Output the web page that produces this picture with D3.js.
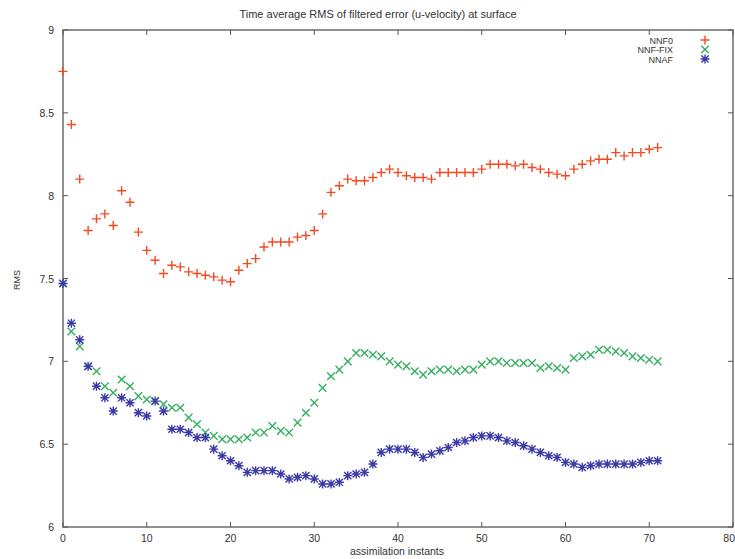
<!DOCTYPE html>
<html>
<head>
<meta charset="utf-8">
<script src="https://cdn.jsdelivr.net/npm/d3@7/dist/d3.min.js"></script>
<style>
  html, body { margin: 0; padding: 0; background: #fff; }
  svg { display: block; }
  text { font-family: "Liberation Sans", Arial, sans-serif; fill: #333; }
</style>
</head>
<body>
<svg id="chart" width="735" height="559"></svg>
<script>
// ---- Data ----
const titleText = "Time average RMS of filtered error (u-velocity) at surface";
const xLabel = "assimilation instants";
const yLabel = "RMS";
const xTicks = [0, 10, 20, 30, 40, 50, 60, 70, 80];
const yTicks = [6, 6.5, 7, 7.5, 8, 8.5, 9];
const seriesNames = ["NNF0", "NNF-FIX", "NNAF"];

const nnf0 = [8.75, 8.43, 8.10, 7.79, 7.86, 7.89, 7.82, 8.03, 7.96, 7.78,
  7.67, 7.61, 7.53, 7.58, 7.57, 7.54, 7.53, 7.52, 7.51, 7.49,
  7.48, 7.55, 7.59, 7.62, 7.69, 7.72, 7.72, 7.72, 7.75, 7.76,
  7.79, 7.89, 8.02, 8.06, 8.10, 8.09, 8.09, 8.11, 8.14, 8.16,
  8.14, 8.12, 8.11, 8.11, 8.10, 8.14, 8.14, 8.14, 8.14, 8.14,
  8.16, 8.19, 8.19, 8.19, 8.18, 8.19, 8.17, 8.16, 8.14, 8.13,
  8.12, 8.16, 8.19, 8.21, 8.22, 8.22, 8.26, 8.24, 8.26, 8.26,
  8.28, 8.29];

const nnfFix = [7.47, 7.18, 7.09, 6.97, 6.94, 6.85, 6.81, 6.89, 6.85, 6.79,
  6.77, 6.76, 6.74, 6.72, 6.72, 6.66, 6.62, 6.57, 6.55, 6.53,
  6.53, 6.53, 6.54, 6.57, 6.57, 6.61, 6.58, 6.57, 6.63, 6.69,
  6.75, 6.84, 6.91, 6.95, 7.00, 7.05, 7.05, 7.04, 7.03, 7.00,
  6.98, 6.97, 6.94, 6.92, 6.94, 6.95, 6.95, 6.94, 6.95, 6.95,
  6.98, 7.00, 7.00, 6.99, 6.99, 6.99, 6.99, 6.96, 6.97, 6.96,
  6.95, 7.02, 7.03, 7.04, 7.07, 7.07, 7.06, 7.05, 7.03, 7.02,
  7.01, 7.00];

const nnaf = [7.47, 7.23, 7.13, 6.97, 6.85, 6.78, 6.70, 6.78, 6.75, 6.69,
  6.67, 6.76, 6.70, 6.59, 6.59, 6.57, 6.54, 6.54, 6.47, 6.43,
  6.40, 6.37, 6.33, 6.34, 6.34, 6.34, 6.32, 6.29, 6.30, 6.31,
  6.29, 6.26, 6.26, 6.27, 6.31, 6.32, 6.33, 6.38, 6.45, 6.47,
  6.47, 6.47, 6.45, 6.42, 6.44, 6.46, 6.48, 6.51, 6.52, 6.54,
  6.55, 6.55, 6.54, 6.52, 6.51, 6.49, 6.47, 6.45, 6.43, 6.42,
  6.39, 6.38, 6.36, 6.37, 6.38, 6.38, 6.38, 6.38, 6.38, 6.39,
  6.40, 6.40];

const seriesValues = [nnf0, nnfFix, nnaf];
const seriesColors = ["#f24a22", "#34b060", "#3b3aa6"];
const seriesShapes = ["plus", "cross", "star"];

// ---- Layout ----
const svg = d3.select("#chart");
const L = 63, R = 733, T = 30, B = 527;

const x = d3.scaleLinear().domain([0, 80]).range([L, R]);
const y = d3.scaleLinear().domain([6, 9]).range([B, T]);

const border = "#555";

// Ticks (inward, mirrored)
const tickLen = 5;
const tg = svg.append("g").attr("stroke", border).attr("stroke-width", 1);
xTicks.forEach(v => {
  tg.append("line").attr("x1", x(v)).attr("x2", x(v)).attr("y1", B).attr("y2", B - tickLen);
  tg.append("line").attr("x1", x(v)).attr("x2", x(v)).attr("y1", T).attr("y2", T + tickLen);
});
yTicks.forEach(v => {
  tg.append("line").attr("x1", L).attr("x2", L + tickLen).attr("y1", y(v)).attr("y2", y(v));
  tg.append("line").attr("x1", R).attr("x2", R - tickLen).attr("y1", y(v)).attr("y2", y(v));
});

// Border
svg.append("rect").attr("x", L).attr("y", T).attr("width", R - L).attr("height", B - T)
  .attr("fill", "none").attr("stroke", border).attr("stroke-width", 1.3);

// Tick labels
const lastX = xTicks[xTicks.length - 1];
svg.append("g").selectAll("text").data(xTicks).join("text")
  .attr("x", d => d === lastX ? 735 : x(d)).attr("y", B + 15)
  .attr("text-anchor", d => d === lastX ? "end" : "middle").attr("font-size", 10.5)
  .text(d => d3.format("d")(d));

svg.append("g").selectAll("text").data(yTicks).join("text")
  .attr("x", L - 9).attr("y", d => y(d) + 4)
  .attr("text-anchor", "end").attr("font-size", 10.5)
  .text(d => d3.format("~g")(d));

// Title and axis labels
svg.append("text").attr("x", 378).attr("y", 18).attr("text-anchor", "middle")
  .attr("font-size", 11).text(titleText);
svg.append("text").attr("x", 397).attr("y", 555).attr("text-anchor", "middle")
  .attr("font-size", 10.5).text(xLabel);
svg.append("text").attr("transform", "translate(20,280) rotate(-90)")
  .attr("text-anchor", "middle").attr("font-size", 9).text(yLabel);

// Marker path generators
function markerPath(shape, cx, cy) {
  const s = 4.5;
  if (shape === "plus") {
    return `M${cx - s},${cy}L${cx + s},${cy}M${cx},${cy - s}L${cx},${cy + s}`;
  }
  if (shape === "cross") {
    const c = 3.8;
    return `M${cx - c},${cy - c}L${cx + c},${cy + c}M${cx - c},${cy + c}L${cx + c},${cy - c}`;
  }
  const c = 3.6;
  return `M${cx - s},${cy}L${cx + s},${cy}M${cx},${cy - s}L${cx},${cy + s}` +
    `M${cx - c},${cy - c}L${cx + c},${cy + c}M${cx - c},${cy + c}L${cx + c},${cy - c}`;
}

// Series
seriesValues.forEach((vals, i) => {
  svg.append("g").selectAll("path").data(vals).join("path")
    .attr("d", (d, j) => markerPath(seriesShapes[i], x(j), y(d)))
    .attr("fill", "none").attr("stroke", seriesColors[i])
    .attr("stroke-width", 1.4);
});

// Legend
const legY = [40, 49.5, 59];
seriesNames.forEach((name, i) => {
  svg.append("text").attr("x", 673).attr("y", legY[i] + 3.5)
    .attr("text-anchor", "end").attr("font-size", 9).text(name);
  svg.append("path").attr("d", markerPath(seriesShapes[i], 705, legY[i]))
    .attr("fill", "none").attr("stroke", seriesColors[i]).attr("stroke-width", 1.4);
});
</script>
</body>
</html>
